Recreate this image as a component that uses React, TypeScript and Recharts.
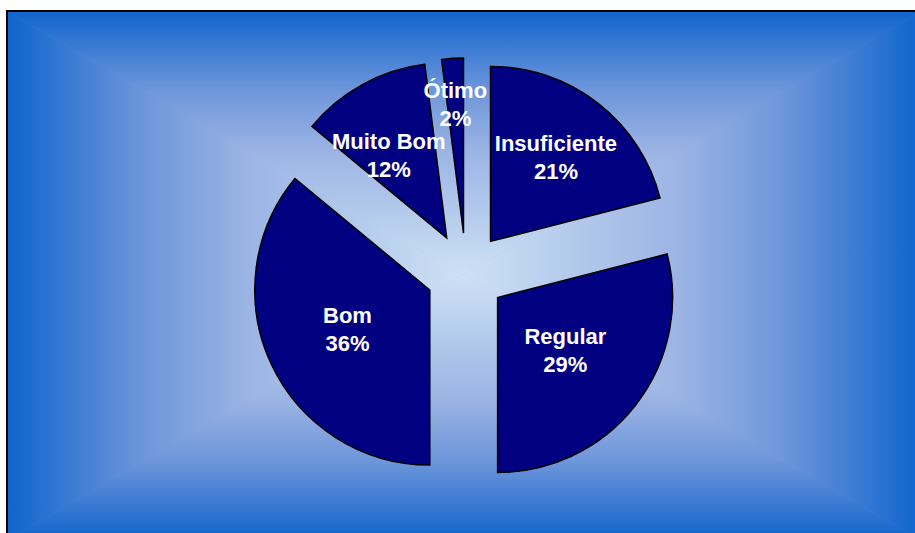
import React from "react";
import { PieChart, Pie, Cell } from "recharts";

const categories = ["Insuficiente", "Regular", "Bom", "Muito Bom", "Ótimo"];
const percentages = [21, 29, 36, 12, 2];
// label placement: share of the radius and a small angular nudge (deg)
const labelDepth = [0.61, 0.49, 0.52, 0.58, 0.74];
const labelNudge = [0, 0, 0, -6, 0];

const data = categories.map((name, i) => ({ name, value: percentages[i] }));

const W = 915;
const H = 533;
const CX = 466;
const CY = 273;
const R = 175;
const EXPLODE = 40;
const SLICE = "#000080";
const RAD = Math.PI / 180;

const total = percentages.reduce((a, b) => a + b, 0);
// mid angle of each slice, clockwise from 12 o'clock
const midAngles = percentages.map((v, i) => {
  const before = percentages.slice(0, i).reduce((a, b) => a + b, 0);
  return ((before + v / 2) / total) * 360;
});

// frame + "from center" gradient
const FX0 = 7;
const FY0 = 11;
const FX1 = 921;
const FY1 = 540;
const GX = 463;
const GY = 275;
const STOPS: [number, string][] = [
  [0, "#0f64cd"],
  [0.3, "#6e96da"],
  [0.53, "#9bb4e4"],
  [1, "#cde1f4"],
];

const renderLabel = (slice: number) => (props: any) => {
  if (props.index !== slice) return null;
  const { cx, cy, midAngle, outerRadius } = props;
  const r = outerRadius * labelDepth[slice];
  const a = (midAngle - labelNudge[slice]) * RAD;
  const x = cx + r * Math.cos(-a);
  const y = cy + r * Math.sin(-a);
  return (
    <text
      x={x}
      y={y}
      textAnchor="middle"
      fill="#ffffff"
      fontFamily="'Liberation Sans', Arial, sans-serif"
      fontWeight="bold"
      fontSize={22}
    >
      <tspan x={x} y={y - 6}>
        {categories[slice]}
      </tspan>
      <tspan x={x} y={y + 22}>
        {percentages[slice]}%
      </tspan>
    </text>
  );
};

function Grad({ id, x1, y1, x2, y2 }: { id: string; x1: number; y1: number; x2: number; y2: number }) {
  return (
    <linearGradient id={id} gradientUnits="userSpaceOnUse" x1={x1} y1={y1} x2={x2} y2={y2}>
      {STOPS.map(([o, c]) => (
        <stop key={o} offset={o} stopColor={c} />
      ))}
    </linearGradient>
  );
}

function Background() {
  return (
    <svg width={W} height={H} style={{ position: "absolute", left: 0, top: 0 }}>
      <defs>
        <Grad id="gTop" x1={GX} y1={FY0} x2={GX} y2={GY} />
        <Grad id="gBottom" x1={GX} y1={FY1} x2={GX} y2={GY} />
        <Grad id="gLeft" x1={FX0} y1={GY} x2={GX} y2={GY} />
        <Grad id="gRight" x1={FX1} y1={GY} x2={GX} y2={GY} />
      </defs>
      <rect x={FX0} y={FY0} width={FX1 - FX0} height={FY1 - FY0} fill="#6f9ad8" />
      <polygon points={`${FX0},${FY0} ${FX1},${FY0} ${GX},${GY}`} fill="url(#gTop)" stroke="url(#gTop)" strokeWidth={0.6} />
      <polygon points={`${FX0},${FY1} ${FX1},${FY1} ${GX},${GY}`} fill="url(#gBottom)" stroke="url(#gBottom)" strokeWidth={0.6} />
      <polygon points={`${FX0},${FY0} ${FX0},${FY1} ${GX},${GY}`} fill="url(#gLeft)" stroke="url(#gLeft)" strokeWidth={0.6} />
      <polygon points={`${FX1},${FY0} ${FX1},${FY1} ${GX},${GY}`} fill="url(#gRight)" stroke="url(#gRight)" strokeWidth={0.6} />
      <rect x={FX0} y={FY0} width={FX1 - FX0} height={FY1 - FY0} fill="none" stroke="#000" strokeWidth={2} />
    </svg>
  );
}

export default function App() {
  return (
    <>
      <style>{"body { margin: 0; }"}</style>
      <div style={{ position: "relative", width: W, height: H, overflow: "hidden" }}>
        <Background />
        <div style={{ position: "absolute", left: 0, top: 0 }}>
          <PieChart width={W} height={H} margin={{ top: 0, right: 0, bottom: 0, left: 0 }}>
            {categories.map((cat, i) => (
              <Pie
                key={cat}
                data={data}
                dataKey="value"
                nameKey="name"
                cx={CX + EXPLODE * Math.sin(midAngles[i] * RAD)}
                cy={CY - EXPLODE * Math.cos(midAngles[i] * RAD)}
                innerRadius={0}
                outerRadius={R}
                startAngle={90}
                endAngle={-270}
                labelLine={false}
                label={renderLabel(i)}
                isAnimationActive={false}
              >
                {data.map((entry, j) => (
                  <Cell
                    key={`cell-${j}`}
                    fill={j === i ? SLICE : "none"}
                    stroke={j === i ? "#000000" : "none"}
                    strokeWidth={1.5}
                  />
                ))}
              </Pie>
            ))}
          </PieChart>
        </div>
      </div>
    </>
  );
}
